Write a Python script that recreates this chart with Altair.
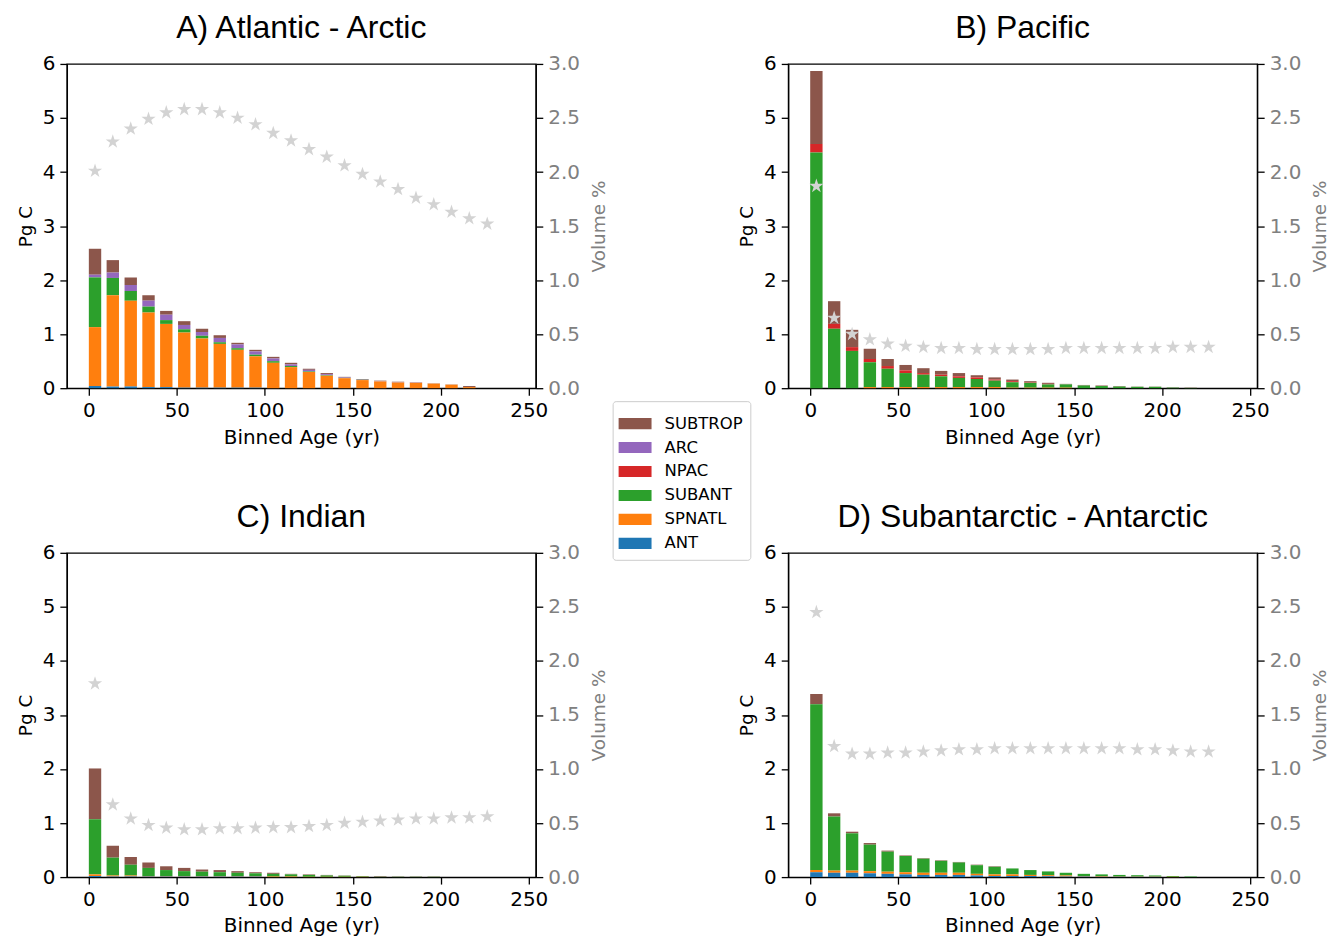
import altair as alt
import pandas as pd

# ---------------- data ----------------
AGE = [3.5, 13.6, 23.8, 33.9, 44.0, 54.2, 64.3, 74.4, 84.5, 94.7, 104.8, 114.9,
       125.1, 135.2, 145.3, 155.5, 165.6, 175.7, 185.9, 196.0, 206.1, 216.2, 226.4]

REGIONS = ["SUBTROP", "ARC", "NPAC", "SUBANT", "SPNATL", "ANT"]
COLORS = ["#8c564b", "#9467bd", "#d62728", "#2ca02c", "#ff7f0e", "#1f77b4"]
STACK_ORDER = {"ANT": 0, "SPNATL": 1, "SUBANT": 2, "NPAC": 3, "ARC": 4, "SUBTROP": 5}

Z = [0.0] * 23

# Panel A: Atlantic - Arctic
A_SUBTROP = [0.48, 0.23, 0.14, 0.10, 0.07, 0.07, 0.06, 0.05, 0.03, 0.03, 0.03, 0.03,
             0.02, 0.02, 0.01, 0.01, 0.01, 0.01, 0.005, 0.005, 0.005, 0.02, 0.0]
A_ARC = [0.05, 0.10, 0.11, 0.11, 0.10, 0.08, 0.07, 0.08, 0.07, 0.06, 0.05, 0.03,
         0.03, 0.02, 0.01, 0.005, 0.005, 0.005, 0.005, 0.0, 0.0, 0.0, 0.0]
A_NPAC = Z
A_SUBANT = [0.92, 0.32, 0.18, 0.11, 0.07, 0.06, 0.05, 0.03, 0.03, 0.03, 0.03, 0.02,
            0.01, 0.01, 0.005, 0.005, 0.0, 0.0, 0.0, 0.0, 0.0, 0.0, 0.0]
A_SPNATL = [1.09, 1.69, 1.59, 1.38, 1.17, 1.02, 0.91, 0.81, 0.70, 0.58, 0.47, 0.39,
            0.30, 0.23, 0.185, 0.15, 0.125, 0.105, 0.10, 0.085, 0.065, 0.02, 0.0]
A_ANT = [0.04, 0.03, 0.03, 0.02, 0.02, 0.01, 0.01, 0.01, 0.01, 0.01, 0.0, 0.0,
         0.0, 0.0, 0.0, 0.0, 0.0, 0.0, 0.0, 0.0, 0.0, 0.0, 0.0]
A_VOL = [2.01, 2.28, 2.40, 2.49, 2.55, 2.58, 2.58, 2.55, 2.50, 2.44, 2.36, 2.29,
         2.21, 2.14, 2.06, 1.98, 1.91, 1.84, 1.76, 1.70, 1.63, 1.57, 1.52]

# Panel B: Pacific
B_SUBTROP = [1.35, 0.42, 0.32, 0.19, 0.13, 0.10, 0.09, 0.07, 0.06, 0.04, 0.04, 0.03,
             0.02, 0.02, 0.01, 0.01, 0.01, 0.01, 0.005, 0.005, 0.005, 0.005, 0.0]
B_ARC = Z
B_NPAC = [0.16, 0.09, 0.07, 0.06, 0.05, 0.05, 0.03, 0.03, 0.03, 0.03, 0.02, 0.02,
          0.01, 0.01, 0.0, 0.0, 0.0, 0.0, 0.0, 0.0, 0.0, 0.0, 0.0]
B_SUBANT = [4.36, 1.10, 0.69, 0.46, 0.34, 0.26, 0.23, 0.20, 0.17, 0.15, 0.12, 0.10,
            0.09, 0.06, 0.06, 0.05, 0.04, 0.03, 0.025, 0.025, 0.01, 0.005, 0.0]
B_SPNATL = [0.0, 0.0, 0.0, 0.02, 0.02, 0.02, 0.02, 0.02, 0.02, 0.02, 0.02, 0.01,
            0.01, 0.01, 0.01, 0.0, 0.0, 0.0, 0.0, 0.0, 0.0, 0.0, 0.0]
B_ANT = Z
B_VOL = [1.87, 0.65, 0.50, 0.45, 0.41, 0.39, 0.38, 0.37, 0.37, 0.36, 0.36, 0.36,
         0.36, 0.36, 0.37, 0.37, 0.37, 0.37, 0.37, 0.37, 0.38, 0.38, 0.38]

# Panel C: Indian
C_SUBTROP = [0.94, 0.22, 0.14, 0.10, 0.07, 0.06, 0.04, 0.04, 0.03, 0.02, 0.02, 0.01,
             0.01, 0.01, 0.005, 0.005, 0.01, 0.005, 0.005, 0.005, 0.0, 0.0, 0.0]
C_ARC = Z
C_NPAC = Z
C_SUBANT = [1.02, 0.33, 0.20, 0.15, 0.11, 0.09, 0.08, 0.07, 0.06, 0.05, 0.05, 0.04,
            0.035, 0.025, 0.02, 0.01, 0.005, 0.005, 0.005, 0.005, 0.0, 0.0, 0.0]
C_SPNATL = [0.03, 0.02, 0.02, 0.01, 0.01, 0.01, 0.01, 0.01, 0.01, 0.01, 0.01, 0.01,
            0.005, 0.005, 0.005, 0.005, 0.0, 0.0, 0.0, 0.0, 0.0, 0.0, 0.0]
C_ANT = [0.02, 0.01, 0.01, 0.01, 0.01, 0.01, 0.01, 0.01, 0.01, 0.01, 0.0, 0.0,
         0.0, 0.0, 0.0, 0.0, 0.0, 0.0, 0.0, 0.0, 0.0, 0.0, 0.0]
C_VOL = [1.79, 0.67, 0.54, 0.48, 0.455, 0.44, 0.44, 0.45, 0.45, 0.455, 0.46, 0.46,
         0.47, 0.48, 0.50, 0.51, 0.52, 0.53, 0.54, 0.54, 0.55, 0.55, 0.56]

# Panel D: Subantarctic - Antarctic
D_SUBTROP = [0.19, 0.06, 0.03, 0.03, 0.02, 0.01, 0.01, 0.01, 0.01, 0.01, 0.01, 0.0,
             0.0, 0.0, 0.0, 0.0, 0.0, 0.0, 0.0, 0.0, 0.0, 0.0, 0.0]
D_ARC = Z
D_NPAC = Z
D_SUBANT = [3.07, 1.00, 0.69, 0.49, 0.37, 0.30, 0.26, 0.22, 0.19, 0.16, 0.14, 0.11,
            0.09, 0.07, 0.05, 0.04, 0.035, 0.03, 0.025, 0.02, 0.015, 0.01, 0.0]
D_SPNATL = [0.04, 0.04, 0.04, 0.04, 0.04, 0.04, 0.04, 0.04, 0.04, 0.03, 0.03, 0.03,
            0.02, 0.02, 0.02, 0.01, 0.01, 0.005, 0.005, 0.005, 0.005, 0.0, 0.0]
D_ANT = [0.09, 0.08, 0.08, 0.07, 0.06, 0.05, 0.04, 0.04, 0.04, 0.03, 0.02, 0.02,
         0.02, 0.015, 0.01, 0.01, 0.005, 0.005, 0.005, 0.005, 0.0, 0.0, 0.0]
D_VOL = [2.45, 1.21, 1.14, 1.14, 1.15, 1.15, 1.16, 1.17, 1.18, 1.18, 1.19, 1.19,
         1.19, 1.19, 1.19, 1.19, 1.19, 1.19, 1.18, 1.18, 1.17, 1.16, 1.16]

TITLES = ["A) Atlantic - Arctic", "B) Pacific", "C) Indian", "D) Subantarctic - Antarctic"]

# ---------------- chart ----------------
FONT = "DejaVu Sans"
TITLE_FONT = "Liberation Sans"
STAR = ("M0,-1 L0.2245,-0.309 L0.951,-0.309 L0.363,0.118 L0.588,0.809 "
        "L0,0.382 L-0.588,0.809 L-0.363,0.118 L-0.951,-0.309 L-0.2245,-0.309 Z")
RECT = "M-1.1,-0.37 L1.1,-0.37 L1.1,0.37 L-1.1,0.37 Z"

X_ENC = alt.X("age:Q",
              scale=alt.Scale(domain=[-12.5, 254], nice=False, zero=False, padding=0),
              axis=alt.Axis(values=[0, 50, 100, 150, 200, 250], title="Binned Age (yr)",
                            labelPadding=5, titlePadding=7, titleFontSize=20))


def panel(title, comps, vol):
    rows = []
    for r in REGIONS:
        for a, v in zip(AGE, comps[r]):
            rows.append({"age": a, "region": r, "value": v, "ord": STACK_ORDER[r]})
    bdf = pd.DataFrame(rows)
    sdf = pd.DataFrame({"age": AGE, "vol": vol})

    bars = alt.Chart(bdf).mark_bar(size=12.4).encode(
        x=X_ENC,
        y=alt.Y("value:Q", stack="zero",
                scale=alt.Scale(domain=[0, 6], nice=False, padding=0),
                axis=alt.Axis(values=[0, 1, 2, 3, 4, 5, 6], title="Pg C", orient="left",
                              labelPadding=5, titlePadding=7, titleFontSize=18.5)),
        color=alt.Color("region:N",
                        scale=alt.Scale(domain=REGIONS, range=COLORS),
                        legend=alt.Legend(title=None, orient="none", legendX=547, legendY=338,
                                          symbolType=RECT, symbolSize=900, symbolStrokeWidth=0,
                                          labelFontSize=16.5, labelFont=FONT, labelOffset=14.5,
                                          rowPadding=0, padding=7.5, strokeColor="#cccccc",
                                          fillColor="white", cornerRadius=3)),
        order=alt.Order("ord:Q", sort="ascending"),
    )
    stars = alt.Chart(sdf).mark_point(shape=STAR, filled=True, color="#d3d3d3",
                                      size=225, opacity=1, strokeWidth=0).encode(
        x=X_ENC,
        y=alt.Y("vol:Q", scale=alt.Scale(domain=[0, 3], nice=False, padding=0),
                axis=alt.Axis(orient="right", title="Volume %",
                              values=[0, 0.5, 1.0, 1.5, 2.0, 2.5, 3.0], format=".1f",
                              labelColor="#808080", titleColor="#808080", titleAngle=270,
                              titleBaseline="top", labelPadding=5, titlePadding=10,
                              titleFontSize=18.5)),
    )
    return alt.layer(bars, stars).resolve_scale(y="independent").properties(
        width=470, height=325, title=title)


pA = panel(TITLES[0], {"SUBTROP": A_SUBTROP, "ARC": A_ARC, "NPAC": A_NPAC,
                       "SUBANT": A_SUBANT, "SPNATL": A_SPNATL, "ANT": A_ANT}, A_VOL)
pB = panel(TITLES[1], {"SUBTROP": B_SUBTROP, "ARC": B_ARC, "NPAC": B_NPAC,
                       "SUBANT": B_SUBANT, "SPNATL": B_SPNATL, "ANT": B_ANT}, B_VOL)
pC = panel(TITLES[2], {"SUBTROP": C_SUBTROP, "ARC": C_ARC, "NPAC": C_NPAC,
                       "SUBANT": C_SUBANT, "SPNATL": C_SPNATL, "ANT": C_ANT}, C_VOL)
pD = panel(TITLES[3], {"SUBTROP": D_SUBTROP, "ARC": D_ARC, "NPAC": D_NPAC,
                       "SUBANT": D_SUBANT, "SPNATL": D_SPNATL, "ANT": D_ANT}, D_VOL)

chart = alt.concat(pA, pB, pC, pD, columns=2,
                   spacing={"row": 165, "column": 253}, bounds="flush").properties(
    padding={"left": 7, "top": 2, "right": 0, "bottom": 5}
).configure(
    font=FONT,
).configure_view(
    stroke="black", strokeWidth=1.3
).configure_axis(
    labelFont=FONT, titleFont=FONT, labelFontSize=20, titleFontSize=20,
    titleFontWeight="normal", labelColor="black", titleColor="black",
    domainColor="black", domainWidth=1.3, tickColor="black", tickWidth=1.3,
    tickSize=7, grid=False
).configure_title(
    font=TITLE_FONT, fontSize=32, fontWeight="normal", anchor="middle", offset=9, color="black"
)

chart.save("out.html", embed_options={"renderer": "svg", "actions": False})
